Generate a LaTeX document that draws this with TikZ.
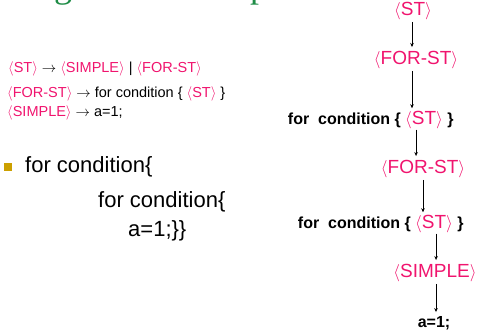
\documentclass[tikz,border=0pt]{standalone}
\usepackage{fontspec}
\setmainfont{Liberation Sans}
\newfontfamily\titlefont{Liberation Serif}
\usetikzlibrary{arrows.meta}
\definecolor{pinkc}{RGB}{240,20,110}
\definecolor{bulletc}{RGB}{204,160,0}
\definecolor{titlec}{RGB}{30,140,70}
\newcommand{\ntm}[1]{\textcolor{pinkc}{$\langle$#1$\rangle$}}
\begin{document}
\begin{tikzpicture}[x=1pt,y=-1pt,
  gram/.style={font=\fontsize{14.5}{16}\selectfont, inner sep=0pt, anchor=west},
  big/.style={font=\fontsize{22}{26}\selectfont, inner sep=0pt, anchor=west},
  tnt/.style={font=\fontsize{19}{22}\selectfont, inner sep=1pt},
  boldt/.style={font=\fontsize{16}{19}\selectfont\bfseries, inner sep=1pt},
  ttl/.style={text=titlec, font=\titlefont\fontsize{36}{40}\selectfont, inner sep=0pt, anchor=base west},
  arr/.style={-{Stealth[length=4pt,width=3.5pt]}, line width=0.5pt, shorten >=3pt, shorten <=1pt}]
\useasboundingbox (0,0) rectangle (480,333);
% cut-off title
\begin{scope}
\clip (0,0) rectangle (480,333);
\node[ttl] (tg) at (54,-3) {g};
\node[ttl] (tp) at (250,-3) {p};
\end{scope}
% grammar
\node[gram] (g1) at (8,69) {\ntm{ST} $\rightarrow$ \ntm{SIMPLE} | \ntm{FOR-ST}};
\node[gram] (g2) at (7,94) {\ntm{FOR-ST} $\rightarrow$ for condition \{ \ntm{ST} \}};
\node[gram] (g3) at (7,113) {\ntm{SIMPLE} $\rightarrow$ a=1;};
% bullet text
\node[fill=bulletc, minimum size=8pt, inner sep=0pt] (bul) at (8,167) {};
\node[big] (b1) at (25,167) {for condition\{};
\node[big] (b2) at (98,202) {for condition\{};
\node[big] (b3) at (128,231) {a=1;\}\}};
% tree
\node[tnt] (st1) at (413,11) {\ntm{ST}};
\node[tnt] (for1) at (416,60) {\ntm{FOR-ST}};
\node[boldt, anchor=base east] (fc1) at (402,124) {for\ \ condition \{};
\node[tnt, anchor=base west, inner xsep=3pt, inner ysep=0pt] (st2) at (fc1.base east) {\ntm{ST}};
\node[boldt, anchor=base west] (rb1) at (st2.base east) {\}};
\node[tnt] (for2) at (423,169) {\ntm{FOR-ST}};
\node[boldt, anchor=base east] (fc2) at (412,228) {for\ \ condition \{};
\node[tnt, anchor=base west, inner xsep=3pt, inner ysep=0pt] (st3) at (fc2.base east) {\ntm{ST}};
\node[boldt, anchor=base west] (rb2) at (st3.base east) {\}};
\node[tnt] (simp) at (435,273) {\ntm{SIMPLE}};
\node[boldt] (a1) at (434,323) {a=1;};
\draw[arr] ([xshift=-1pt]st1.south) -- ([xshift=-1pt]st1.south |- for1.north);
\draw[arr] ([xshift=-4pt]for1.south) -- ([xshift=-4pt]for1.south |- fc1.north);
\draw[arr] ([xshift=-8pt]st2.south) -- ([xshift=-8pt]st2.south |- for2.north);
\draw[arr] (for2.south) -- (for2.south |- fc2.north);
\draw[arr] ([xshift=2pt]st3.south) -- ([xshift=2pt]st3.south |- simp.north);
\draw[arr] ([xshift=1pt]simp.south) -- ([xshift=1pt]simp.south |- a1.north);
\end{tikzpicture}
\end{document}
